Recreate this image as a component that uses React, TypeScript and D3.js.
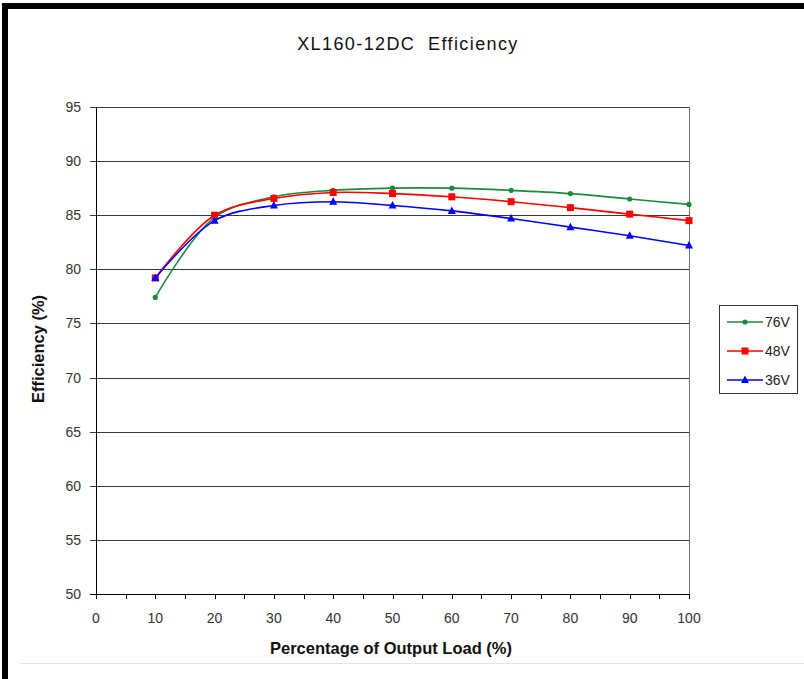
import React from "react";
import * as d3 from "d3";

const loads = [10, 20, 30, 40, 50, 60, 70, 80, 90, 100];
const v76 = [77.4, 84.8, 86.7, 87.3, 87.5, 87.5, 87.3, 87.0, 86.5, 86.0];
const v48 = [79.2, 85.0, 86.55, 87.1, 87.0, 86.7, 86.25, 85.7, 85.1, 84.5];
const v36 = [79.2, 84.5, 85.9, 86.25, 85.9, 85.4, 84.7, 83.9, 83.1, 82.2];
const seriesNames = ["76V", "48V", "36V"];
const seriesColors = ["#1a8a3a", "#ff0000", "#0000ff"];
const xTicks = [0, 10, 20, 30, 40, 50, 60, 70, 80, 90, 100];
const yTicks = [50, 55, 60, 65, 70, 75, 80, 85, 90, 95];

const FONT = "'Liberation Sans', Arial, sans-serif";

export default function App() {
  const x = d3.scaleLinear().domain([0, 100]).range([96, 689]);
  const y = d3.scaleLinear().domain([50, 95]).range([594, 107]);
  const line = d3
    .line<[number, number]>()
    .x((d) => x(d[0]))
    .y((d) => y(d[1]))
    .curve(d3.curveCatmullRom.alpha(0.5));
  const allSeries = [v76, v48, v36];
  const minorTicks = d3.range(0, 101, 5);

  const marker = (i: number, cx: number, cy: number, key: string) => {
    const c = seriesColors[i];
    if (i === 0) return <circle key={key} cx={cx} cy={cy} r={2.6} fill={c} />;
    if (i === 1)
      return <rect key={key} x={cx - 3.5} y={cy - 3.5} width={7} height={7} fill={c} />;
    return (
      <path
        key={key}
        d={`M${cx},${cy - 4.5}L${cx + 4},${cy + 3}L${cx - 4},${cy + 3}Z`}
        fill={c}
      />
    );
  };

  return (
    <svg
      width={804}
      height={679}
      style={{ position: "absolute", left: 0, top: 0, background: "#fff" }}
      fontFamily={FONT}
    >
      <rect x={0} y={0} width={804} height={679} fill="#fff" />
      {/* outer frame */}
      <rect x={2} y={3} width={6} height={676} fill="#000" />
      <rect x={2} y={3} width={802} height={6} fill="#000" />
      <line x1={20} x2={804} y1={663.5} y2={663.5} stroke="#e4e4e4" />

      <text
        x={408}
        y={50}
        textAnchor="middle"
        fontSize={18}
        letterSpacing={1.4}
        fill="#111"
        style={{ whiteSpace: "pre" }}
      >
        {"XL160-12DC  Efficiency"}
      </text>

      {/* gridlines */}
      {yTicks.map((t) => (
        <line
          key={"g" + t}
          x1={90}
          x2={689}
          y1={Math.round(y(t)) + 0.5}
          y2={Math.round(y(t)) + 0.5}
          stroke={t === 50 ? "#000" : "#3a3a3a"}
          strokeWidth={1}
        />
      ))}
      {/* right border */}
      <line x1={689.5} x2={689.5} y1={y(95)} y2={y(50)} stroke="#777" />
      {/* y axis */}
      <line x1={96.5} x2={96.5} y1={y(95)} y2={y(50) + 5} stroke="#000" />
      {/* x ticks */}
      {minorTicks.map((t) => (
        <line
          key={"xt" + t}
          x1={Math.round(x(t)) + 0.5}
          x2={Math.round(x(t)) + 0.5}
          y1={y(50)}
          y2={y(50) + 5}
          stroke="#000"
        />
      ))}
      {yTicks.map((t) => (
        <text
          key={"yl" + t}
          x={81}
          y={y(t) + 5}
          textAnchor="end"
          fontSize={14}
          fill="#333"
        >
          {t}
        </text>
      ))}
      {xTicks.map((t) => (
        <text
          key={"xl" + t}
          x={x(t)}
          y={623}
          textAnchor="middle"
          fontSize={14}
          fill="#333"
        >
          {t}
        </text>
      ))}
      <text
        x={391}
        y={654}
        textAnchor="middle"
        fontSize={16.5}
        fontWeight="bold"
        fill="#111"
      >
        Percentage of Output Load (%)
      </text>
      <text
        transform={`translate(44,349) rotate(-90)`}
        textAnchor="middle"
        fontSize={16.5}
        fontWeight="bold"
        fill="#111"
      >
        Efficiency (%)
      </text>

      {/* series */}
      {allSeries.map((vals, i) => {
        const pts: [number, number][] = loads.map((l, j) => [l, vals[j]]);
        return (
          <g key={"s" + i}>
            <path d={line(pts) || ""} fill="none" stroke={seriesColors[i]} strokeWidth={1.6} />
            {pts.map((p, j) => marker(i, x(p[0]), y(p[1]), `m${i}-${j}`))}
          </g>
        );
      })}

      {/* legend */}
      <rect x={719.5} y={305.5} width={78} height={88} fill="#fff" stroke="#333" />
      {seriesNames.map((n, i) => {
        const ly = 322 + i * 29;
        return (
          <g key={"lg" + i}>
            <line x1={727} x2={763} y1={ly} y2={ly} stroke={seriesColors[i]} strokeWidth={1.6} />
            {marker(i, 745, ly, "lm" + i)}
            <text x={765} y={ly + 5} fontSize={14} fill="#222">
              {n}
            </text>
          </g>
        );
      })}
    </svg>
  );
}
